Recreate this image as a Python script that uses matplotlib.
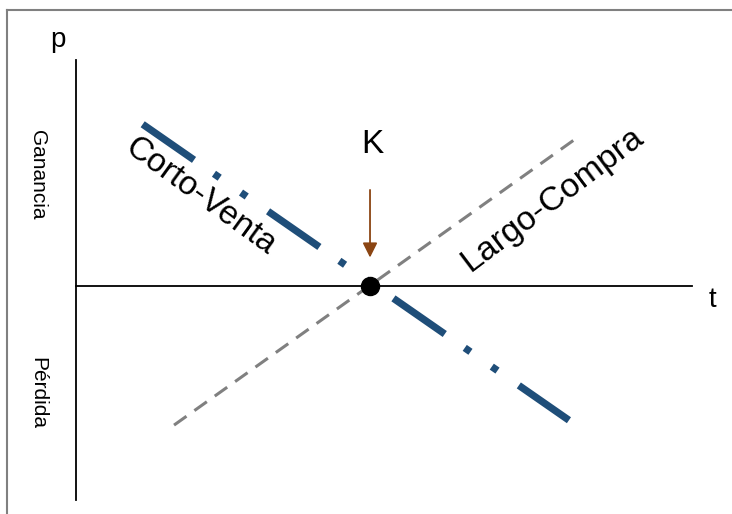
import matplotlib
matplotlib.use("Agg")
import matplotlib.pyplot as plt
from matplotlib.lines import Line2D

plt.rcParams['font.family'] = ['Liberation Sans', 'DejaVu Sans']
plt.rcParams['lines.scale_dashes'] = False

# strike point K
k_t = 3.0
k_p = 0.0

# long / short position lines (t, p)
largo_t = [1.0, 5.11]
largo_p = [-1.42, 1.51]
corto_t = [0.68, 5.03]
corto_p = [1.65, -1.37]

# axes extents
t_axis = [0.0, 6.29]
p_axis = [2.31, -2.18]

labels = {"largo": "Largo-Compra", "corto": "Corto-Venta",
          "gan": "Ganancia", "per": "Pérdida"}

fig = plt.figure(figsize=(7.32, 5.14), dpi=100)
ax = fig.add_axes([0, 0, 1, 1])
ax.set_xlim(-0.776, 6.694)
ax.set_ylim(-2.327, 2.918)
ax.axis('off')

# frame around the picture (left + top only visible)
fig.add_artist(Line2D([7/732, 7/732], [0, 1 - 10/514], color='#808080', lw=1.5))
fig.add_artist(Line2D([7/732, 1], [1 - 10/514, 1 - 10/514], color='#808080', lw=1.5))

# axes lines
ax.plot([0, 0], p_axis, color='black', lw=1.3)
ax.plot(t_axis, [0, 0], color='black', lw=1.3)

# largo-compra: grey dashed
ax.plot(largo_t, largo_p, color='#808080', lw=2.2, dashes=(11, 7))

# corto-venta: blue dash-dot-dot
ax.plot(corto_t, corto_p, color='#1f4e79', lw=5.2, solid_capstyle='butt',
        dash_capstyle='butt', dashes=(45, 17.5, 5, 18.7, 5, 18.7))

# K point and arrow
ax.plot([k_t], [k_p], 'o', color='black', ms=13, zorder=5)
ax.annotate('', xy=(k_t, 0.29), xytext=(k_t, 0.98),
            arrowprops=dict(arrowstyle='-|>', color='#8b4513', lw=1.3,
                            mutation_scale=22, shrinkA=0, shrinkB=0))

ax.text(3.02, 1.44, 'K', fontsize=24, ha='center', va='center')
ax.text(-0.19, 2.51, 'p', fontsize=20, ha='center', va='center')
ax.text(6.49, -0.14, 't', fontsize=20, ha='center', va='center')

ax.text(1.27, 0.91, labels["corto"], fontsize=24, rotation=-36,
        ha='center', va='center', rotation_mode='anchor')
ax.text(4.86, 0.88, labels["largo"], fontsize=24.5, rotation=37,
        ha='center', va='center', rotation_mode='anchor')

ax.text(-0.39, 1.13, labels["gan"], fontsize=15, rotation=270,
        ha='center', va='center')
ax.text(-0.39, -1.09, labels["per"], fontsize=15, rotation=270,
        ha='center', va='center')

fig.savefig('out.png', dpi=100, facecolor='white')
